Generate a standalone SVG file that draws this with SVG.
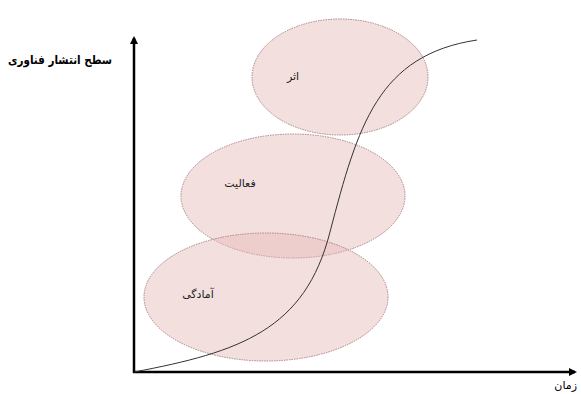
<svg xmlns="http://www.w3.org/2000/svg" width="581" height="394" viewBox="0 0 581 394">
<style>
.zone{fill:#e6b8b7;fill-opacity:0.45;stroke:#a88484;stroke-width:1;stroke-dasharray:1.5 1}
.lbl{font-family:"DejaVu Sans","Noto Sans",sans-serif;font-size:11px;fill:#222}
.axis{stroke:#000;stroke-width:2.5;fill:none}
</style>
<defs>
<marker id="ah" markerWidth="8" markerHeight="8" refX="6" refY="4" orient="auto" markerUnits="userSpaceOnUse"><path d="M0,0 L8,4 L0,8 Z" fill="#000"/></marker>
</defs>
<rect width="581" height="394" fill="#fff"/>
<g id="zone-athar"><ellipse class="zone" cx="340" cy="77" rx="88" ry="58"/><text class="lbl" x="293" y="80" text-anchor="middle">اثر</text></g>
<g id="zone-faaliat"><ellipse class="zone" cx="293" cy="196" rx="112" ry="62"/><text class="lbl" x="240" y="187" text-anchor="middle">فعالیت</text></g>
<g id="zone-amadegi"><ellipse class="zone" cx="266" cy="297" rx="122" ry="64"/><text class="lbl" x="198" y="298" text-anchor="middle">آمادگی</text></g>
<g id="connectors">
<path class="axis" d="M134,373 L134,38" marker-end="url(#ah)"/>
<path class="axis" d="M133,372 L575,372" marker-end="url(#ah)"/>
<path d="M134,372 C240,352 305,330 330,232 C358,125 378,55 477,40" fill="none" stroke="#333" stroke-width="1"/>
</g>
<g id="axis-labels">
<text x="8" y="64" textLength="104" lengthAdjust="spacingAndGlyphs" font-family="DejaVu Sans,sans-serif" font-size="12" font-weight="bold" fill="#000">سطح انتشار فناوری</text>
<text x="577" y="389" text-anchor="end" font-family="DejaVu Sans,sans-serif" font-size="11" fill="#000">زمان</text>
</g>
</svg>
